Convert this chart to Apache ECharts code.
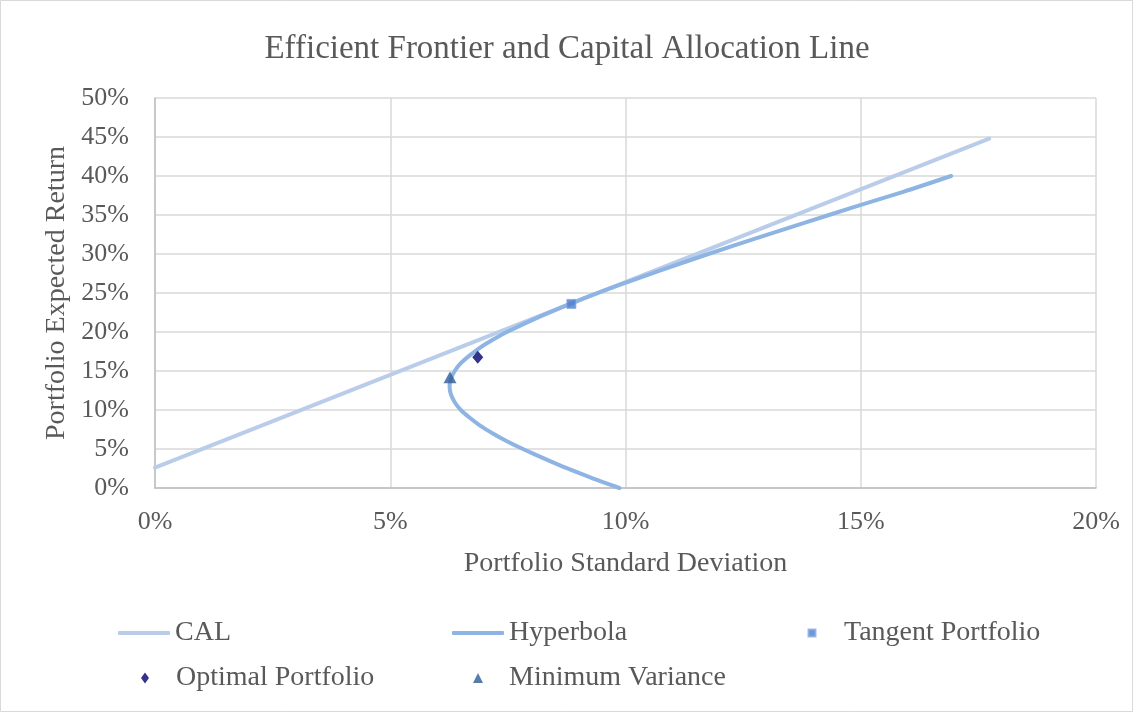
<!DOCTYPE html>
<html>
<head>
<meta charset="utf-8">
<script src="https://cdn.jsdelivr.net/npm/echarts@6/dist/echarts.min.js"></script>
<style>
  html, body { margin: 0; padding: 0; background: #fff; }
  #chart { width: 1134px; height: 713px; }
</style>
</head>
<body>
<div id="chart"></div>
<script>
// Capital allocation line: risk (%) and expected return (%) at its two ends
const calSigma = [0, 17.73];
const calReturn = [2.6, 44.8];

// Minimum-variance hyperbola, traced from the lower branch up through the vertex to the upper branch
const hypSigma  = [9.87, 9.41, 8.98, 8.57, 8.19, 7.82, 7.48, 7.18, 6.91, 6.69, 6.50, 6.37, 6.29, 6.26, 6.29, 6.37, 6.50, 6.69, 6.91, 7.18, 7.48, 8.19, 8.98, 9.86, 10.79, 11.76, 12.77, 13.80, 14.85, 15.92, 16.92];
const hypReturn = [0,    1,    2,    3,    4,    5,    6,    7,    8,    9,    10,   11,   12,   13,   14,   15,   16,   17,   18,   19,   20,   22,   24,   26,   28,    30,    32,    34,    36,    38,    40];

// Highlighted portfolios: [standard deviation %, expected return %]
const tangentPortfolio = [8.85, 23.6];
const optimalPortfolio = [6.86, 16.75];
const minimumVariance = [6.27, 14.2];

// Axis ticks (%)
const xTicks = [0, 5, 10, 15, 20];
const yTicks = [0, 5, 10, 15, 20, 25, 30, 35, 40, 45, 50];

const zip = (a, b) => a.map((v, i) => [v, b[i]]);

const font = '"Liberation Serif", "Times New Roman", serif';
const textColor = '#595959';
const gridColor = '#D9D9D9';

const chart = echarts.init(document.getElementById('chart'), null, { renderer: 'canvas' });

// One legend block per entry so the entries sit in fixed columns
function legendAt(name, left, top, icon, w, h, textPad) {
  return {
    left: left, top: top,
    orient: 'horizontal',
    itemWidth: w, itemHeight: h,
    itemGap: 0,
    selectedMode: false,
    data: [{ name: name, icon: icon }],
    textStyle: { fontFamily: font, fontSize: 28, color: textColor, padding: [0, 0, 0, textPad] },
    padding: 0
  };
}

const option = {
  backgroundColor: '#ffffff',
  animation: false,
  title: {
    text: 'Efficient Frontier and Capital Allocation Line',
    left: 'center',
    top: 28,
    textStyle: { fontFamily: font, fontSize: 33, fontWeight: 'normal', color: textColor }
  },
  grid: { left: 155, right: 38, top: 98, bottom: 225 },
  xAxis: {
    type: 'value',
    min: xTicks[0], max: xTicks[xTicks.length - 1], interval: 5,
    name: 'Portfolio Standard Deviation',
    nameLocation: 'middle',
    nameGap: 62,
    nameTextStyle: { fontFamily: font, fontSize: 28, color: textColor },
    axisLine: { show: true, lineStyle: { color: '#BFBFBF', width: 1.5 } },
    axisTick: { show: false },
    splitLine: { show: true, lineStyle: { color: gridColor, width: 1.5 } },
    axisLabel: {
      fontFamily: font, fontSize: 26, color: textColor, margin: 21,
      formatter: v => v + '%'
    }
  },
  yAxis: {
    type: 'value',
    min: yTicks[0], max: yTicks[yTicks.length - 1], interval: 5,
    name: 'Portfolio Expected Return',
    nameLocation: 'middle',
    nameGap: 83,
    nameRotate: 90,
    nameTextStyle: { fontFamily: font, fontSize: 28, color: textColor },
    axisLine: { show: true, lineStyle: { color: '#BFBFBF', width: 1.5 } },
    axisTick: { show: false },
    splitLine: { show: true, lineStyle: { color: gridColor, width: 1.5 } },
    axisLabel: {
      fontFamily: font, fontSize: 26, color: textColor, margin: 26,
      padding: [5, 0, 0, 0],
      formatter: v => v + '%'
    }
  },
  legend: [
    legendAt('CAL', 118, 619, 'roundRect', 52, 4, 0),
    legendAt('Hyperbola', 452, 619, 'roundRect', 52, 4, 0),
    legendAt('Tangent Portfolio', 807.5, 619, 'rect', 7, 7, 23.5),
    legendAt('Optimal Portfolio', 141, 664, 'diamond', 8, 11, 22),
    legendAt('Minimum Variance', 473, 664, 'triangle', 10, 10, 21)
  ],
  series: [
    {
      name: 'CAL',
      type: 'line',
      data: zip(calSigma, calReturn),
      showSymbol: false,
      symbol: 'none',
      color: '#B9CDEA',
      lineStyle: { color: '#B9CDEA', width: 4, cap: 'round' },
      z: 2
    },
    {
      name: 'Hyperbola',
      type: 'line',
      data: zip(hypSigma, hypReturn),
      smooth: 0.3,
      showSymbol: false,
      symbol: 'none',
      color: '#8EB4E3',
      lineStyle: { color: '#8EB4E3', width: 4, cap: 'round' },
      z: 3
    },
    {
      name: 'Tangent Portfolio',
      type: 'scatter',
      data: [tangentPortfolio],
      symbol: 'rect',
      symbolSize: 9,
      color: '#4A7DCC',
      itemStyle: { color: '#4A7DCC', borderColor: '#86AAE2', borderWidth: 1 },
      z: 5
    },
    {
      name: 'Optimal Portfolio',
      type: 'scatter',
      data: [optimalPortfolio],
      symbol: 'diamond',
      symbolSize: [11, 13],
      color: '#00006E',
      itemStyle: { color: '#00006E' },
      z: 5
    },
    {
      name: 'Minimum Variance',
      type: 'scatter',
      data: [minimumVariance],
      symbol: 'triangle',
      symbolSize: [13, 12],
      color: '#2F5D95',
      itemStyle: { color: '#2F5D95' },
      z: 5
    }
  ],
  graphic: [{
    type: 'rect',
    shape: { x: 0.5, y: 0.5, width: 1132, height: 711 },
    style: { fill: null, stroke: '#D9D9D9', lineWidth: 1 },
    silent: true
  }]
};

chart.setOption(option);
</script>
</body>
</html>
